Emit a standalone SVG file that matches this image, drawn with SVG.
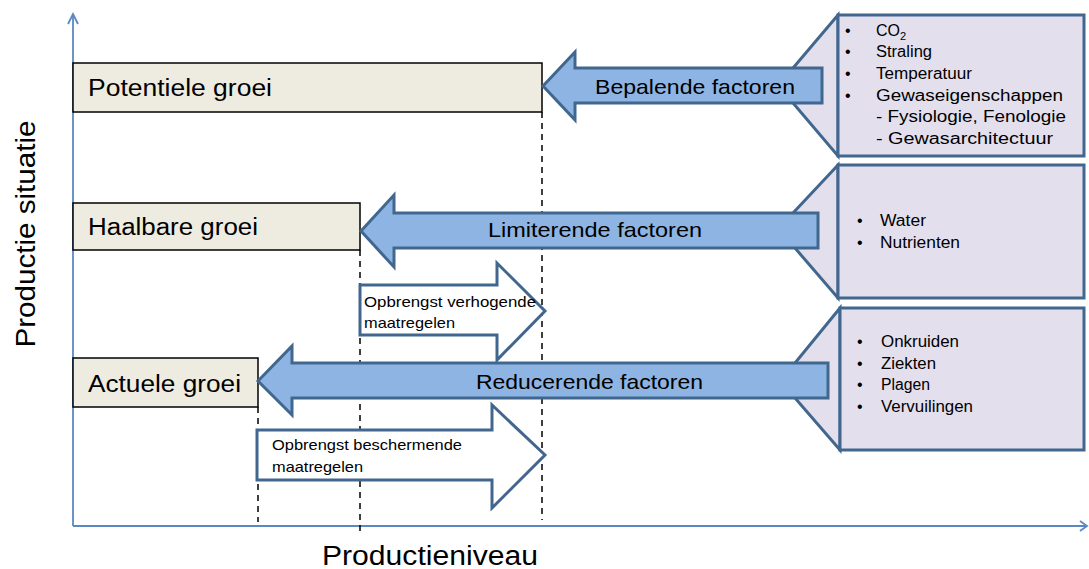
<svg xmlns="http://www.w3.org/2000/svg" width="1089" height="569" viewBox="0 0 1089 569">
<style>
text{font-family:"Liberation Sans",Arial,sans-serif;fill:#000}
.lvl{fill:#eeece1;stroke:#000;stroke-width:1.5}
.big{font-size:23px}
.fac{font-size:21px}
.axl{font-size:27px}
.sm{font-size:16px}
.arr{font-size:15px}
.barr{fill:#8eb4e3;stroke:#41678f;stroke-width:3;stroke-linejoin:miter}
.warr{fill:#fff;stroke:#41678f;stroke-width:3;stroke-linejoin:miter}
.call{fill:#e4dfec;stroke:#41678f;stroke-width:3;stroke-linejoin:miter}
.dash{stroke:#000;stroke-width:1.5;stroke-dasharray:6,5;fill:none}
.axis{stroke:#5b88c2;stroke-width:1.8;fill:none}
</style>

<g id="axes">
<line class="axis" x1="73" y1="526" x2="73" y2="14"/>
<polyline class="axis" points="68,24 73,14 78,24"/>
<line class="axis" x1="73" y1="526" x2="1087" y2="526"/>
<polyline class="axis" points="1080,521 1087,526 1080,531"/>
<text class="axl" transform="translate(35,234) rotate(-90)" text-anchor="middle" textLength="227" lengthAdjust="spacingAndGlyphs">Productie situatie</text>
<text class="axl" x="322" y="565" textLength="216" lengthAdjust="spacingAndGlyphs">Productieniveau</text>
</g>

<g id="connectors">
<line class="dash" x1="542" y1="112" x2="542" y2="520"/>
<line class="dash" x1="360" y1="250" x2="360" y2="531"/>
<line class="dash" x1="258" y1="407" x2="258" y2="522"/>
</g>

<g id="potentiele">
<rect class="lvl" x="73" y="63" width="469" height="49"/>
<text class="big" x="88" y="96" textLength="184" lengthAdjust="spacingAndGlyphs">Potentiele groei</text>
</g>
<g id="haalbare">
<rect class="lvl" x="73" y="203" width="287" height="47"/>
<text class="big" x="88" y="235" textLength="170" lengthAdjust="spacingAndGlyphs">Haalbare groei</text>
</g>
<g id="actuele">
<rect class="lvl" x="73" y="358" width="185" height="49"/>
<text class="big" x="88" y="392" textLength="153" lengthAdjust="spacingAndGlyphs">Actuele groei</text>
</g>

<g id="callout-bepalend">
<polygon class="call" points="838,15 793,68 793,103 838,156"/>
<rect class="call" x="838" y="15" width="246" height="141"/>
<g class="sm">
<text x="845" y="36">•</text>
<text x="876" y="36">CO<tspan font-size="11" dy="4">2</tspan></text>
<text x="845" y="57">•</text>
<text x="876" y="57" textLength="56" lengthAdjust="spacingAndGlyphs">Straling</text>
<text x="845" y="79">•</text>
<text x="876" y="79" textLength="96" lengthAdjust="spacingAndGlyphs">Temperatuur</text>
<text x="845" y="101">•</text>
<text x="876" y="101" textLength="187" lengthAdjust="spacingAndGlyphs">Gewaseigenschappen</text>
<text x="876" y="122" textLength="190" lengthAdjust="spacingAndGlyphs">- Fysiologie, Fenologie</text>
<text x="876" y="144" textLength="177" lengthAdjust="spacingAndGlyphs">- Gewasarchitectuur</text>
</g>
</g>

<g id="callout-limiterend">
<polygon class="call" points="838,165 793,213 795,248 838,298"/>
<rect class="call" x="838" y="165" width="246" height="133"/>
<g class="sm">
<text x="857" y="226">•</text>
<text x="880" y="226" textLength="46" lengthAdjust="spacingAndGlyphs">Water</text>
<text x="857" y="248">•</text>
<text x="880" y="248" textLength="80" lengthAdjust="spacingAndGlyphs">Nutrienten</text>
</g>
</g>

<g id="callout-reducerend">
<polygon class="call" points="840,308 795,363 795,398 840,450"/>
<rect class="call" x="840" y="308" width="244" height="142"/>
<g class="sm">
<text x="857" y="347">•</text>
<text x="881" y="347" textLength="78" lengthAdjust="spacingAndGlyphs">Onkruiden</text>
<text x="857" y="369">•</text>
<text x="881" y="369" textLength="55" lengthAdjust="spacingAndGlyphs">Ziekten</text>
<text x="857" y="390">•</text>
<text x="881" y="390" textLength="49" lengthAdjust="spacingAndGlyphs">Plagen</text>
<text x="857" y="412">•</text>
<text x="881" y="412" textLength="92" lengthAdjust="spacingAndGlyphs">Vervuilingen</text>
</g>
</g>

<g id="arrow-bepalend">
<polygon class="barr" points="543,86 575,52 575,68 822,68 822,103 575,103 575,120"/>
<text class="fac" x="595" y="94" textLength="200" lengthAdjust="spacingAndGlyphs">Bepalende factoren</text>
</g>
<g id="arrow-limiterend">
<polygon class="barr" points="361,231 394,195 394,213 818,213 818,248 394,248 394,267"/>
<text class="fac" x="488" y="237" textLength="214" lengthAdjust="spacingAndGlyphs">Limiterende factoren</text>
</g>
<g id="arrow-reducerend">
<polygon class="barr" points="258,381 292,346 292,363 828,363 828,398 292,398 292,415"/>
<text class="fac" x="476" y="389" textLength="227" lengthAdjust="spacingAndGlyphs">Reducerende factoren</text>
</g>

<g id="arrow-verhogend">
<polygon class="warr" points="360,285 497,285 497,263 545,311 497,360 497,335 360,335"/>
<text class="arr" x="364" y="307" textLength="172" lengthAdjust="spacingAndGlyphs">Opbrengst verhogende</text>
<text class="arr" x="364" y="328" textLength="91" lengthAdjust="spacingAndGlyphs">maatregelen</text>
</g>
<g id="arrow-beschermend">
<polygon class="warr" points="257,430 492,430 492,405 545,455 492,508 492,480 257,480"/>
<text class="arr" x="272" y="450" textLength="190" lengthAdjust="spacingAndGlyphs">Opbrengst beschermende</text>
<text class="arr" x="272" y="472" textLength="91" lengthAdjust="spacingAndGlyphs">maatregelen</text>
</g>
</svg>
